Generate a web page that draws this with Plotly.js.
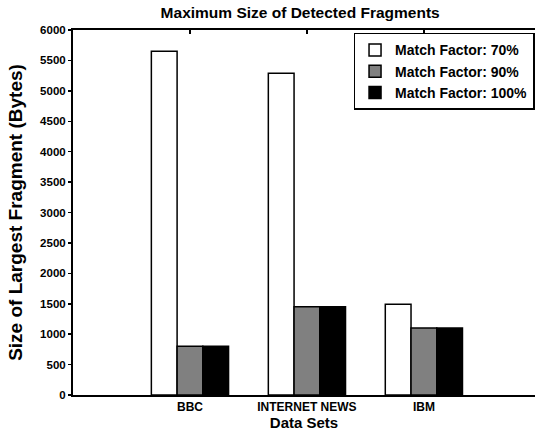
<!DOCTYPE html>
<html>
<head>
<meta charset="utf-8">
<script src="https://cdn.plot.ly/plotly-3.0.1.min.js"></script>
<style>html,body{margin:0;padding:0;background:#fff;}#chart{width:535px;height:432px;}</style>
</head>
<body>
<div id="chart"></div>
<script>
const categories = ["BBC", "INTERNET NEWS", "IBM"];
const seriesNames = ["Match Factor: 70%", "Match Factor: 90%", "Match Factor: 100%"];
const mf70 = [5650, 5290, 1490];
const mf90 = [800, 1450, 1100];
const mf100 = [800, 1450, 1100];
const yTickVals = [0, 500, 1000, 1500, 2000, 2500, 3000, 3500, 4000, 4500, 5000, 5500, 6000];

const FONT = "Liberation Sans, Arial, Helvetica, sans-serif";
const colors = ["#ffffff", "#808080", "#000000"];
const seriesValues = [mf70, mf90, mf100];

const traces = seriesValues.map((vals, i) => ({
  type: "bar",
  name: seriesNames[i],
  x: categories,
  y: vals,
  marker: { color: colors[i], line: { color: "#000", width: 1.5 } },
  hoverinfo: "skip"
}));

const layout = {
  width: 535,
  height: 432,
  margin: { l: 73, r: 0, t: 30, b: 37 },
  paper_bgcolor: "#fff",
  plot_bgcolor: "#fff",
  barmode: "group",
  bargap: 0.34,
  bargroupgap: 0,
  showlegend: true,
  title: {
    text: "Maximum Size of Detected Fragments",
    font: { family: FONT, size: 15.5, weight: "bold", color: "#000" },
    xref: "container", x: 0.561, xanchor: "center",
    yref: "container", y: 0.97, yanchor: "middle"
  },
  xaxis: {
    type: "category",
    range: [-1, 2.95],
    showline: true, linecolor: "#000", linewidth: 2,
    mirror: "ticks",
    ticks: "inside", ticklen: 4, tickwidth: 1.5, tickcolor: "#000",
    layer: "below traces",
    showgrid: false, zeroline: false,
    tickfont: { family: FONT, size: 12, weight: "bold", color: "#000" },
    title: { text: "Data Sets", font: { family: FONT, size: 15, weight: "bold", color: "#000" }, standoff: 2 }
  },
  yaxis: {
    range: [0, 6000],
    tickvals: yTickVals,
    ticktext: yTickVals.map(String),
    showline: true, linecolor: "#000", linewidth: 2,
    ticks: "outside", ticklen: 3, tickwidth: 1.5, tickcolor: "#000",
    showgrid: false, zeroline: false,
    tickfont: { family: FONT, size: 11.5, weight: "bold", color: "#000" },
    title: { text: "Size of Largest Fragment (Bytes)", font: { family: FONT, size: 19, weight: "bold", color: "#000" }, standoff: 12 }
  },
  yaxis2: {
    overlaying: "y", side: "right", range: [0, 6000],
    tickvals: yTickVals, showticklabels: false,
    ticks: "inside", ticklen: 3, tickwidth: 1, tickcolor: "#000",
    showline: false, showgrid: false, zeroline: false
  },
  legend: {
    x: 0.999, xanchor: "right", xref: "paper",
    y: 0.992, yanchor: "top", yref: "paper",
    bgcolor: "#fff", bordercolor: "#000", borderwidth: 1.5,
    font: { family: FONT, size: 14, weight: "bold", color: "#000" },
    tracegroupgap: 0
  }
};

Plotly.newPlot("chart", traces, layout, { displayModeBar: false, staticPlot: true });
</script>
</body>
</html>
